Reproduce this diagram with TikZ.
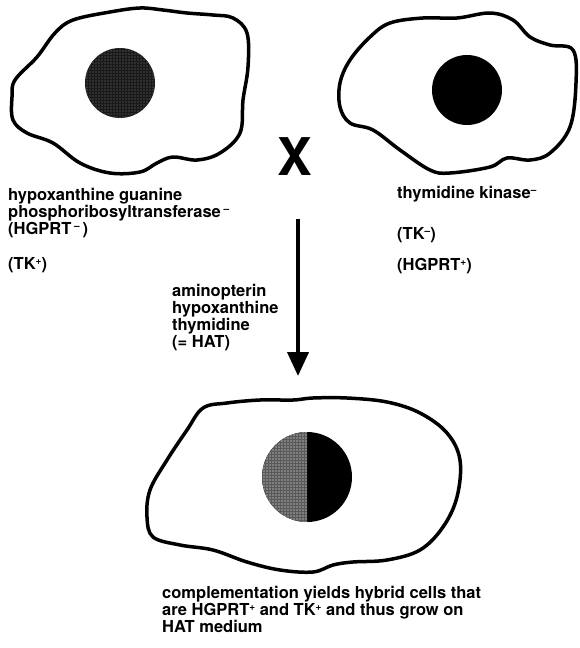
\documentclass[tikz,border=0pt]{standalone}
\usepackage{fontspec}
\setmainfont{TeX Gyre Heros}
\usetikzlibrary{positioning,arrows.meta,patterns.meta}

\tikzset{
  cell/.style={line width=3.5pt, line join=round},
  lbl/.style={anchor=base west, align=left, inner sep=0pt,
    font=\bfseries\fontsize{16.5}{17}\selectfont},
  stipple/.style={pattern={Dots[radius=0.6pt,distance=3pt]}, pattern color=#1}
}
\newcommand{\up}[1]{\raisebox{0.3em}{\fontsize{10}{10}\selectfont#1}}

\begin{document}
\begin{tikzpicture}[x=1pt, y=-1pt]
  \useasboundingbox (0,0) rectangle (579,648);

  % parent cells
  \draw[cell] plot[smooth cycle, tension=0.6] coordinates {
    (15,80) (37,57) (55,33) (73,20) (110,12) (140,8) (163,10) (187,13)
    (213,15) (233,18) (247,33) (248,67) (243,100) (240,133) (220,153)
    (197,160) (173,157) (157,163) (140,172) (110,173) (80,163) (53,143)
    (27,133) (13,120) (12,97)};
  \draw[cell] plot[smooth cycle, tension=0.6] coordinates {
    (340,83) (350,60) (370,37) (390,23) (423,18) (457,18) (490,13)
    (513,20) (530,37) (550,45) (573,50) (576,83) (570,127) (550,153)
    (530,160) (507,158) (490,167) (450,173) (430,170) (400,150) (373,130)
    (350,123) (340,107)};

  \coordinate (nucL) at (120,83);
  \coordinate (nucR) at (467,90);
  \fill[black!90] (nucL) circle[radius=35];
  \fill[stipple=black!50] (nucL) circle[radius=35];
  \fill[black] (nucR) circle[radius=35];

  \node[font=\bfseries\fontsize{52}{52}\selectfont, inner sep=0pt] (cross) at (295,157) {X};

  % labels of the two parents (base = last line)
  \node[lbl] (hgprtL) at (8,234) {hypoxanthine guanine\\phosphoribosyltransferase\,\up{--}\\(HGPRT\,\up{--}\,)};
  \node[lbl] (tkL) at (8,269) {(TK\up{+})};
  \node[lbl] (tkR) at (397,198) {thymidine kinase\up{--}};
  \node[lbl] (tkminR) at (397,239) {(TK\up{--})};
  \node[lbl] (hgprtR) at (397,270) {(HGPRT\up{+})};

  % selection step
  \coordinate (arrtop) at (298,219);
  \coordinate (arrtip) at (298,376);
  \draw[line width=4pt, -{Triangle[length=24pt,width=21pt]}] (arrtop) -- (arrtip);
  \node[lbl] (hat) at (172,347) {aminopterin\\hypoxanthine\\thymidine\\(= HAT)};

  % hybrid cell
  \draw[cell] plot[smooth cycle, tension=0.6] coordinates {
    (147,517) (150,490) (167,460) (187,430) (203,408) (227,403) (260,400)
    (293,400) (313,398) (347,398) (387,402) (420,413) (447,433) (460,460)
    (457,497) (443,527) (420,550) (387,560) (353,562) (333,565) (313,572)
    (280,570) (247,562) (213,550) (180,545) (153,537)};
  \coordinate (nucH) at (307,477);
  \fill[black] (nucH) circle[radius=45];
  \fill[black!65] (nucH) ++(0,-45) arc[start angle=270, end angle=90, radius=45] -- cycle;
  \fill[stipple=white] (nucH) ++(0,-45) arc[start angle=270, end angle=90, radius=45] -- cycle;

  \node[lbl] (result) at (162,632) {complementation yields hybrid cells that\\are HGPRT\up{+} and TK\up{+} and thus grow on\\HAT medium};
\end{tikzpicture}
\end{document}
